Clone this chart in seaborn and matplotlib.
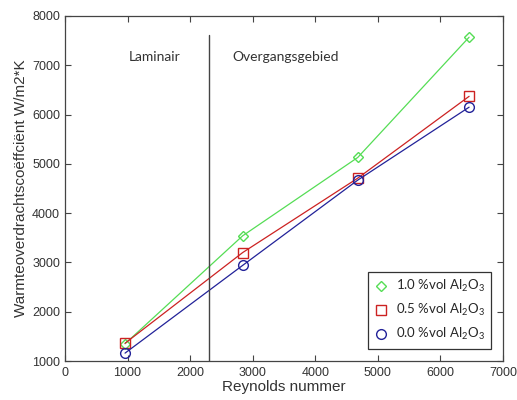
import matplotlib
matplotlib.use("Agg")
import matplotlib.pyplot as plt
import seaborn as sns
import pandas as pd
from matplotlib.lines import Line2D

reynolds = [960, 2840, 4680, 6460]
h_10 = [1350, 3540, 5130, 7570]
h_05 = [1360, 3200, 4710, 6370]
h_00 = [1160, 2940, 4670, 6150]
labels = ["1.0 %vol Al$_2$O$_3$", "0.5 %vol Al$_2$O$_3$", "0.0 %vol Al$_2$O$_3$"]
colors = ["#55dd55", "#cc2222", "#222299"]
markers = ["D", "s", "o"]
re_transition = 2300
x_ticks = [0, 1000, 2000, 3000, 4000, 5000, 6000, 7000]
y_ticks = [1000, 2000, 3000, 4000, 5000, 6000, 7000, 8000]

sns.set_style("white")
plt.rcParams["font.family"] = ["Liberation Sans", "DejaVu Sans"]
plt.rcParams["mathtext.fontset"] = "custom"
plt.rcParams["mathtext.rm"] = "Lato"
plt.rcParams["mathtext.it"] = "Lato"
plt.rcParams["xtick.major.size"] = 4
plt.rcParams["ytick.major.size"] = 4

fig = plt.figure(figsize=(5.17, 4.0), dpi=100)
ax = fig.add_axes([0.1257, 0.0975, 0.847, 0.8625])

series = [h_10, h_05, h_00]
for vals, c, m in zip(series, colors, markers):
    df = pd.DataFrame({"Re": reynolds, "h": vals})
    sns.lineplot(data=df, x="Re", y="h", ax=ax, color=c, linewidth=0.9,
                 marker=m, markersize=(5.5 if m == "D" else 7),
                 markerfacecolor="none", markeredgecolor=c, markeredgewidth=1.0,
                 legend=False)

ax.plot([re_transition, re_transition], [1000, 7620], color="#444444", linewidth=1.0)
ax.text(1440, 7170, "Laminair", family="Lato", fontsize=10, ha="center", va="center", color="#333333")
ax.text(2680, 7170, "Overgangsgebied", family="Lato", fontsize=10, ha="left", va="center", color="#333333")

ax.set_xlim(0, 7000)
ax.set_ylim(1000, 8000)
ax.set_xticks(x_ticks)
ax.set_yticks(y_ticks)
ax.tick_params(direction="in", top=True, right=True, bottom=True, left=True,
               length=4, width=0.8, labelsize=9, colors="#444444", labelcolor="#333333")
ax.tick_params(axis="x", pad=4)
for s in ax.spines.values():
    s.set_color("#444444")
    s.set_linewidth(0.9)
ax.set_xlabel("Reynolds nummer", fontsize=11, color="#333333", labelpad=1)
ax.set_ylabel("Warmteoverdrachtscoëffciënt W/m2*K", fontsize=11, color="#333333", labelpad=3)

handles = [Line2D([], [], linestyle="none", marker=m, markersize=(5.5 if m == "D" else 7),
                  markerfacecolor="none", markeredgecolor=c, markeredgewidth=1.0)
           for m, c in zip(markers, colors)]
leg = ax.legend(handles, labels, loc="lower right", bbox_to_anchor=(0.973, 0.035),
                borderaxespad=0, frameon=True, fancybox=False, framealpha=1, edgecolor="#333333",
                prop={"family": "Lato", "size": 9.5}, handlelength=1.0, handletextpad=0.6,
                labelspacing=0.6, borderpad=0.5)
leg.get_frame().set_linewidth(0.9)

fig.savefig("out.png", dpi=100)
